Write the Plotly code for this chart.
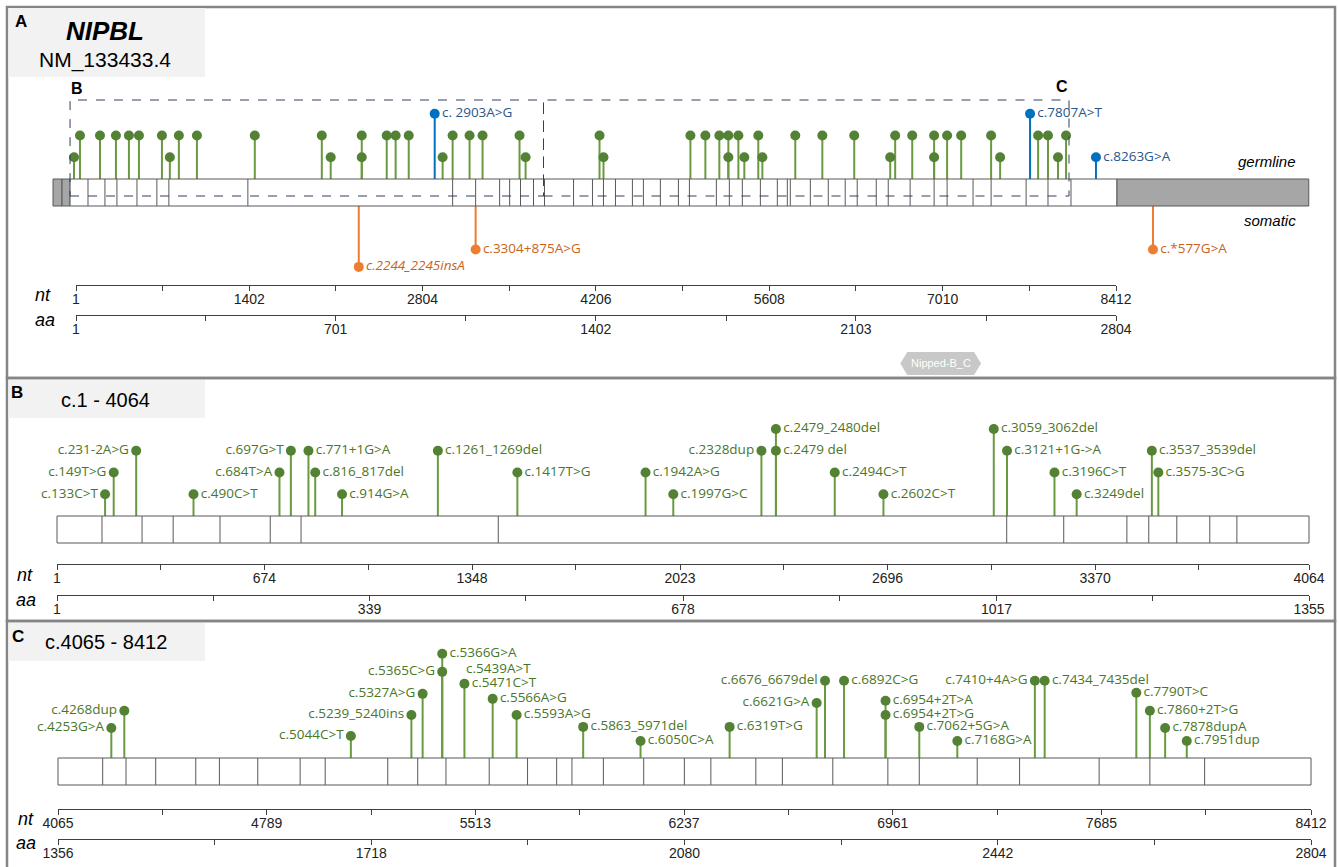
import plotly.graph_objects as go

W, H = 1339, 867
UNIT = 21.75          # px per lollipop level
BAR = 27 / UNIT       # bar height in level units

# ======================= DATA =======================
gene = "NIPBL"
transcript = "NM_133433.4"

# ---- Panel A : whole transcript (c. positions) ----
a_utr5_bounds = [-185, -112, -47]
a_cds_end = 8420
a_utr3_end = 9971
a_exon_bounds = [98, 235, 332, 494, 655, 752, 1391, 3047, 3233, 3427, 3508, 3596,
                 3701, 3790, 4025, 4178, 4267, 4364, 4501, 4590, 4727, 4873, 4962,
                 5180, 5285, 5390, 5536, 5673, 5754, 5778, 5940, 6085, 6222, 6319,
                 6473, 6570, 6747, 6941, 7046, 7256, 7402, 7685, 7862, 8048]
a_green_pos = [-15, 33, 195, 324, 429, 510, 696, 760, 833, 979, 1447, 1989, 2061,
               2312, 2312, 2514, 2586, 2692, 2966, 3047, 3184, 3289, 3588, 3637,
               4235, 4267, 4970, 5091, 5204, 5277, 5277, 5358, 5406, 5519, 5552,
               5818, 6037, 6295, 6586, 6626, 6764, 6941, 6941, 7046, 7160, 7402,
               7475, 7782, 7862, 7943, 8008]
a_green_lvl = [1, 2, 2, 2, 2, 2, 2, 1, 2, 2, 2, 2, 1,
               2, 1, 2, 2, 2, 1, 2, 2, 2, 2, 1,
               2, 1, 2, 2, 2, 2, 1, 2, 1, 2, 1,
               2, 2, 2, 1, 2, 2, 2, 1, 2, 2, 2,
               1, 2, 2, 1, 2]
a_blue_pos = [2902, 7717, 8250]
a_blue_lvl = [3, 3, 1]
a_blue_lab = ["c. 2903A>G", "c.7807A>T", "c.8263G>A"]
a_som_pos = [2288, 3233, 8711]
a_som_depth = [2.8, 2.0, 2.0]
a_som_lab = ["<i>c.2244_2245insA</i>", "c.3304+875A>G", "c.*577G>A"]
a_region_B = [-47, 3782]
a_region_C = [3782, 8032]
a_domain = ("Nipped-B_C", 6667, 7321)

a_nt_ticks = [1, 702, 1402, 2103, 2804, 3505, 4206, 4907, 5608, 6309, 7010, 7711, 8412]
a_nt_text = ["1", "", "1402", "", "2804", "", "4206", "", "5608", "", "7010", "", "8412"]
a_aa_ticks = [1, 351, 701, 1052, 1402, 1753, 2103, 2454, 2804]
a_aa_text = ["1", "", "701", "", "1402", "", "2103", "", "2804"]

# ---- Panel B : c.1 - 4064 ----
b_start, b_end = 1, 4064
b_exon_bounds = [147, 277, 378, 530, 693, 793, 1433, 3083, 3268, 3473, 3544, 3635, 3742, 3830]
b_pos = [157, 185, 258, 444, 723, 760, 817, 839, 926, 1237, 1495, 1911, 2001,
         2287, 2334, 2334, 2525, 2683, 3041, 3084, 3238, 3310, 3554, 3575]
b_lvl = [1, 2, 3, 1, 2, 3, 3, 2, 1, 3, 2, 2, 1,
         3, 3, 4, 2, 1, 4, 3, 2, 1, 3, 2]
b_lab = ["c.133C>T", "c.149T>G", "c.231-2A>G", "c.490C>T", "c.684T>A", "c.697G>T",
         "c.771+1G>A", "c.816_817del", "c.914G>A", "c.1261_1269del", "c.1417T>G",
         "c.1942A>G", "c.1997G>C", "c.2328dup", "c.2479 del", "c.2479_2480del",
         "c.2494C>T", "c.2602C>T", "c.3059_3062del", "c.3121+1G->A", "c.3196C>T",
         "c.3249del", "c.3537_3539del", "c.3575-3C>G"]
b_side = ["L", "L", "L", "R", "L", "L", "R", "R", "R", "R", "R", "R", "R",
          "L", "R", "R", "R", "R", "R", "R", "R", "R", "R", "R"]
b_nt_ticks = [1, 337, 674, 1011, 1348, 1685, 2023, 2360, 2696, 3033, 3370, 3707, 4064]
b_nt_text = ["1", "", "674", "", "1348", "", "2023", "", "2696", "", "3370", "", "4064"]
b_aa_ticks = [1, 170, 339, 508, 678, 847, 1017, 1186, 1355]
b_aa_text = ["1", "", "339", "", "678", "", "1017", "", "1355"]

# ---- Panel C : c.4065 - 8412 ----
c_start, c_end = 4065, 8412
c_exon_bounds = [4220, 4301, 4404, 4543, 4625, 4758, 4905, 4992, 5209, 5313, 5411,
                 5561, 5694, 5795, 5848, 5957, 6097, 6238, 6330, 6486, 6578, 6753,
                 6944, 7053, 7254, 7401, 7677, 7853, 8043]
c_pos = [4250, 4295, 5081, 5291, 5330, 5398, 5398, 5475, 5573, 5656, 5887, 6086,
         6395, 6697, 6726, 6792, 6936, 6936, 7053, 7185, 7454, 7488, 7806, 7853,
         7906, 7981]
c_hgt = [1.38, 2.17, 1.01, 1.98, 2.95, 3.96, 4.79, 3.41, 2.72, 1.98, 1.43, 0.78,
         1.43, 2.53, 3.55, 3.55, 2.63, 1.98, 1.43, 0.78, 3.55, 3.55, 3.0, 2.17,
         1.38, 0.78]
c_lab = ["c.4253G>A", "c.4268dup", "c.5044C>T", "c.5239_5240ins", "c.5327A>G",
         "c.5365C>G", "c.5366G>A", "c.5471C>T", "c.5566A>G", "c.5593A>G",
         "c.5863_5971del", "c.6050C>A", "c.6319T>G", "c.6621G>A", "c.6676_6679del",
         "c.6892C>G", "c.6954+2T>A", "c.6954+2T>G", "c.7062+5G>A", "c.7168G>A",
         "c.7410+4A>G", "c.7434_7435del", "c.7790T>C", "c.7860+2T>G", "c.7878dupA",
         "c.7951dup"]
c_side = ["L", "L", "L", "L", "L", "L", "R", "R", "R", "R", "R", "R",
          "R", "L", "L", "R", "R", "R", "R", "R", "L", "R", "R", "R", "R", "R"]
c_extra = ("c.5439A>T", 5475, 4.15)
c_nt_ticks = [4065, 4427, 4789, 5151, 5513, 5875, 6237, 6599, 6961, 7323, 7685, 8047, 8412]
c_nt_text = ["4065", "", "4789", "", "5513", "", "6237", "", "6961", "", "7685", "", "8412"]
c_aa_ticks = [1356, 1537, 1718, 1899, 2080, 2261, 2442, 2623, 2804]
c_aa_text = ["1356", "", "1718", "", "2080", "", "2442", "", "2804"]

# ======================= STYLE =======================
GREEN = "#548235"
GREEN_STEM = "#6A9A40"
GREEN_TXT = "#4A7628"
BLUE = "#0070C0"
BLUE_TXT = "#2B568A"
ORANGE = "#ED7D31"
ORANGE_TXT = "#C9631C"
EDGE = "#595959"
UTR = "#A6A6A6"
DASH = "#2F3F60"
LBL_FONT = "Open Sans"
LBL_SIZE = 13.5
ARIAL = "Liberation Sans, Arial"


def xr(px1, v1, px2, v2):
    s = (px2 - px1) / (v2 - v1)
    r0 = v1 - px1 / s
    return [r0, r0 + W / s]


def yr(py0):
    return [-(H - py0) / UNIT, py0 / UNIT]


def px(x):
    return x / W


def py(y):
    return 1 - y / H


def stems(pos, top, base=0.0):
    xs, ys = [], []
    for p, t in zip(pos, top):
        xs += [p, p, None]
        ys += [base, t, None]
    return xs, ys


fig = go.Figure()
shapes = []
ann = []

# ---------------- Panel frames & title boxes ----------------
for (y0, y1) in [(7, 378), (378, 621), (621, 870)]:
    shapes.append(dict(type="rect", xref="paper", yref="paper", x0=px(7), x1=px(1335),
                       y0=py(y0), y1=py(y1), line=dict(color="#858585", width=2.5), layer="below"))
for (y0, y1) in [(8, 77), (380, 418), (623, 661)]:
    shapes.append(dict(type="rect", xref="paper", yref="paper", x0=px(8.5), x1=px(205),
                       y0=py(y0), y1=py(y1), line=dict(width=0), fillcolor="#F2F2F2", layer="below"))


def pann(x, y, text, size, color="black", xanchor="center", family=ARIAL):
    ann.append(dict(x=px(x), y=py(y), xref="paper", yref="paper", text=text, showarrow=False,
                    xanchor=xanchor, yanchor="middle", font=dict(size=size, color=color, family=family)))


pann(21, 22, "<b>A</b>", 17)
pann(105, 31, f"<b><i>{gene}</i></b>", 26)
pann(105, 60, transcript, 21)
pann(17, 392, "<b>B</b>", 17)
pann(105, 400, "c.1 - 4064", 20)
pann(18, 636, "<b>C</b>", 17)
pann(106, 642, "c.4065 - 8412", 20)
pann(1298, 162, "<i>germline</i>", 15, xanchor="right")
pann(1298, 220, "<i>somatic</i>", 15, xanchor="right")
for (x, y, t) in [(43, 295, "nt"), (45, 320, "aa"), (25, 575, "nt"), (26, 600, "aa"),
                  (26, 819, "nt"), (26, 843, "aa")]:
    pann(x, y, f"<i>{t}</i>", 18)
pann(77, 88, "<b>B</b>", 16)
pann(1062, 87, "<b>C</b>", 16)

# ---------------- Panel A ----------------
ybot = -BAR
for i in range(len(a_utr5_bounds) - 1):
    shapes.append(dict(type="rect", xref="x", yref="y", x0=a_utr5_bounds[i], x1=a_utr5_bounds[i + 1],
                       y0=ybot, y1=0, fillcolor=UTR, line=dict(color=EDGE, width=1)))
shapes.append(dict(type="rect", xref="x", yref="y", x0=a_utr5_bounds[-1], x1=a_cds_end,
                   y0=ybot, y1=0, fillcolor="white", line=dict(color=EDGE, width=1)))
shapes.append(dict(type="rect", xref="x", yref="y", x0=a_cds_end, x1=a_utr3_end,
                   y0=ybot, y1=0, fillcolor=UTR, line=dict(color=EDGE, width=1)))
for b in a_exon_bounds:
    shapes.append(dict(type="line", xref="x", yref="y", x0=b, x1=b, y0=ybot, y1=0,
                       line=dict(color=EDGE, width=1)))
for reg in (a_region_B, a_region_C):
    shapes.append(dict(type="rect", xref="x", yref="paper", x0=reg[0], x1=reg[1],
                       y0=py(196), y1=py(100), line=dict(color=DASH, width=1, dash="dash")))
dn, d0, d1 = a_domain
d = 57
yt, ym, yb = py(352), py(363.5), py(375)
shapes.append(dict(type="path", xref="x", yref="paper", fillcolor="#C8C8C8", line=dict(width=0),
                   path=f"M {d0},{ym} L {d0+d},{yt} L {d1-d},{yt} L {d1},{ym} L {d1-d},{yb} L {d0+d},{yb} Z"))
ann.append(dict(x=(d0 + d1) / 2, y=ym, xref="x", yref="paper", text=dn, showarrow=False,
                font=dict(size=11, color="white", family=ARIAL), xanchor="center", yanchor="middle"))

sx, sy = stems(a_green_pos, a_green_lvl)
fig.add_trace(go.Scatter(x=sx, y=sy, mode="lines", line=dict(color=GREEN_STEM, width=2),
                         xaxis="x", yaxis="y", hoverinfo="skip"))
fig.add_trace(go.Scatter(x=a_green_pos, y=a_green_lvl, mode="markers",
                         marker=dict(color=GREEN, size=10), xaxis="x", yaxis="y"))
sx, sy = stems(a_blue_pos, a_blue_lvl)
fig.add_trace(go.Scatter(x=sx, y=sy, mode="lines", line=dict(color=BLUE, width=2),
                         xaxis="x", yaxis="y", hoverinfo="skip"))
fig.add_trace(go.Scatter(x=a_blue_pos, y=a_blue_lvl, mode="markers+text", text=a_blue_lab,
                         textposition="middle right", cliponaxis=False,
                         textfont=dict(color=BLUE_TXT, size=LBL_SIZE, family=LBL_FONT),
                         marker=dict(color=BLUE, size=10), xaxis="x", yaxis="y"))
som_y = [ybot - dd for dd in a_som_depth]
sx, sy = stems(a_som_pos, som_y, base=ybot)
fig.add_trace(go.Scatter(x=sx, y=sy, mode="lines", line=dict(color=ORANGE, width=2),
                         xaxis="x", yaxis="y", hoverinfo="skip"))
fig.add_trace(go.Scatter(x=a_som_pos, y=som_y, mode="markers+text", text=a_som_lab,
                         textposition="middle right", cliponaxis=False,
                         textfont=dict(color=ORANGE_TXT, size=LBL_SIZE, family=LBL_FONT),
                         marker=dict(color=ORANGE, size=10), xaxis="x", yaxis="y"))


# ---------------- Panels B and C ----------------
def detail_panel(xa, ya, start, end, bounds, pos, hgt, lab, side):
    shapes.append(dict(type="rect", xref=xa, yref=ya, x0=start, x1=end, y0=-BAR, y1=0,
                       fillcolor="white", line=dict(color=EDGE, width=1)))
    for b in bounds:
        shapes.append(dict(type="line", xref=xa, yref=ya, x0=b, x1=b, y0=-BAR, y1=0,
                           line=dict(color=EDGE, width=1)))
    sx, sy = stems(pos, hgt)
    fig.add_trace(go.Scatter(x=sx, y=sy, mode="lines", line=dict(color=GREEN_STEM, width=2),
                             xaxis=xa, yaxis=ya, hoverinfo="skip"))
    fig.add_trace(go.Scatter(x=pos, y=hgt, mode="markers+text", text=lab,
                             textposition=["middle left" if s == "L" else "middle right" for s in side],
                             cliponaxis=False,
                             textfont=dict(color=GREEN_TXT, size=LBL_SIZE, family=LBL_FONT),
                             marker=dict(color=GREEN, size=10), xaxis=xa, yaxis=ya))


detail_panel("x4", "y2", b_start, b_end, b_exon_bounds, b_pos, b_lvl, b_lab, b_side)
detail_panel("x7", "y3", c_start, c_end, c_exon_bounds, c_pos, c_hgt, c_lab, c_side)
ann.append(dict(x=c_extra[1], y=c_extra[2], xref="x7", yref="y3", text=c_extra[0], showarrow=False,
                xanchor="left", yanchor="middle",
                font=dict(color=GREEN_TXT, size=LBL_SIZE, family=LBL_FONT)))


# ---------------- Rulers (real axes) ----------------
def ruler(axname, yname, rng, dom_px, pos_py, ticks, texts):
    layout_key = "xaxis" + axname[1:]
    fig.add_trace(go.Scatter(x=rng, y=[0, 0], mode="markers", marker=dict(opacity=0),
                             xaxis=axname, yaxis=yname, hoverinfo="skip"))
    fig.layout[layout_key] = dict(
        domain=[px(dom_px[0]), px(dom_px[1])], range=rng, anchor="free", position=py(pos_py),
        showline=True, linecolor="#404040", linewidth=1, ticks="outside", ticklen=5,
        tickcolor="#404040", tickwidth=1, tickvals=ticks, ticktext=texts, showgrid=False,
        zeroline=False, automargin=False, ticklabelstandoff=-4,
        tickfont=dict(size=14, color="#222", family=ARIAL), fixedrange=True)


ruler("x2", "y", [1, 8412], (76, 1116), 285, a_nt_ticks, a_nt_text)
ruler("x3", "y", [1, 2804], (76, 1116), 315, a_aa_ticks, a_aa_text)
ruler("x5", "y2", [1, 4064], (57, 1309), 564, b_nt_ticks, b_nt_text)
ruler("x6", "y2", [1, 1355], (57, 1309), 595, b_aa_ticks, b_aa_text)
ruler("x8", "y3", [4065, 8412], (58, 1311), 809, c_nt_ticks, c_nt_text)
ruler("x9", "y3", [1356, 2804], (58, 1311), 839, c_aa_ticks, c_aa_text)

hidden = dict(visible=False, showgrid=False, zeroline=False, fixedrange=True, automargin=False)
fig.update_layout(
    xaxis=dict(domain=[0, 1], range=xr(76, 1, 1116, 8412), anchor="y", **hidden),
    xaxis4=dict(domain=[0, 1], range=xr(57, 1, 1309, 4064), anchor="y2", **hidden),
    xaxis7=dict(domain=[0, 1], range=xr(58, 4065, 1311, 8412), anchor="y3", **hidden),
    yaxis=dict(domain=[0, 1], range=yr(179), anchor="x", **hidden),
    yaxis2=dict(domain=[0, 1], range=yr(516), anchor="x4", **hidden),
    yaxis3=dict(domain=[0, 1], range=yr(758), anchor="x7", **hidden),
    width=W, height=H, margin=dict(l=0, r=0, t=0, b=0, pad=0, autoexpand=False),
    showlegend=False, plot_bgcolor="rgba(0,0,0,0)", paper_bgcolor="white",
    shapes=shapes, annotations=ann, hovermode=False,
)

fig.write_html("out.html", config={"displayModeBar": False},
               post_script="document.body.style.margin='0';document.body.style.overflow='hidden';")
